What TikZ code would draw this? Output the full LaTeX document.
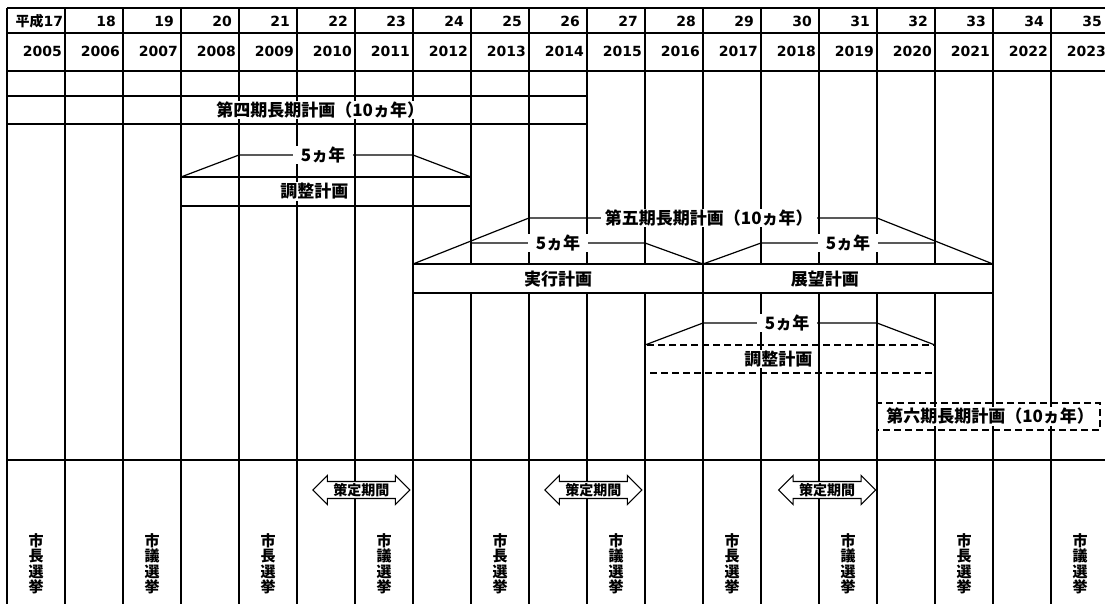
\documentclass[tikz,border=0pt]{standalone}
\usepackage{fontspec}
\setmainfont{Noto Sans CJK JP}
\newfontfamily\numfont{DejaVu Sans}
\usetikzlibrary{positioning,shapes.arrows}
\tikzset{
	gridline/.style={line width=1.2pt},
	hrule/.style={line width=1.8pt},
	planbox/.style={draw,line width=1.4pt},
	bracket/.style={line width=1.2pt},
	tag/.style={fill=white,inner ysep=1pt,inner xsep=2pt,font=\bfseries\fontsize{17}{17}\selectfont},
	gap/.style={tag,inner xsep=8pt},
	kikan/.style={double arrow,draw,fill=white,line width=1.1pt,
		double arrow head extend=6pt,minimum height=97pt,inner sep=1.2pt,
		font=\bfseries\fontsize{14}{14}\selectfont},
	senkyo/.style={align=center,inner sep=0pt,font=\bfseries\fontsize{15}{15.5}\selectfont},
	nendo/.style={anchor=east,inner sep=0pt,font=\numfont\bfseries\fontsize{14}{14}\selectfont}
}

\begin{document}
\begin{tikzpicture}[x=58pt,y=-1pt]
	\useasboundingbox (-0.1207,0) rectangle (18.931,613);
	% grid
	\foreach \i in {0,...,18}
		\draw[gridline] (\i,8) -- (\i,604);
	\foreach \y in {8,33,71,460}
		\draw[hrule] (0,\y) -- (18.931,\y);
	% header
	\node[nendo] (h0) at (0.97,21) {{\normalfont\bfseries 平成}17};
	\foreach \i in {1,...,18}{
		\pgfmathtruncatemacro\n{17+\i}
		\node[nendo] (h\i) at (\i+0.88,21) {\n};
	}
	\foreach \i in {0,...,18}{
		\pgfmathtruncatemacro\n{2005+\i}
		\node[nendo] (y\i) at (\i+0.95,51) {\n};
	}
	% dai 4
	\draw[planbox] (0,96) rectangle (10,124);
	\node[tag] (dai4) at (5.4,110) {第四期長期計画（10ヵ年）};
	\draw[bracket] (3,177) -- (4,155) -- (7,155) -- (8,177);
	\node[gap] (go1) at (5.45,155) {5ヵ年};
	\draw[planbox] (3,177) rectangle (8,206);
	\node[tag] (chosei1) at (5.3,191.5) {調整計画};
	% dai 5
	\draw[bracket] (7,264) -- (9,218) -- (15,218) -- (17,264);
	\draw[bracket] (8,243) -- (11,243) -- (12,264) -- (13,243) -- (16,243);
	\node[gap,inner xsep=4pt] (dai5) at (12.1,218) {第五期長期計画（10ヵ年） };
	\node[gap] (go2) at (9.5,243) {5ヵ年};
	\node[gap] (go3) at (14.5,243) {5ヵ年};
	\draw[planbox,fill=white] (7,264) rectangle (12,293);
	\draw[planbox,fill=white] (12,264) rectangle (17,293);
	\node[tag] (jikko) at (9.5,279) {実行計画};
	\node[tag] (tenbo) at (14.1,279) {展望計画};
	\draw[bracket] (11,345) -- (12,323) -- (15,323) -- (16,345);
	\node[gap] (go4) at (13.45,323) {5ヵ年};
	\draw[planbox,dash pattern=on 7pt off 4pt] (11,345) rectangle (16,373);
	\node[tag] (chosei2) at (13.3,359) {調整計画};
	% dai 6
	\draw[planbox,dash pattern=on 7pt off 4pt] (15,403) rectangle (18.845,430);
	\node[tag] (dai6) at (16.95,416.5) {第六期長期計画（10ヵ年）};
	% sakutei kikan
	\foreach \c/\n in {6.11/a,10.11/b,14.14/c}
		\node[kikan] (kikan\n) at (\c,490) {策定期間};
	% senkyo
	\foreach \i in {0,4,...,16}
		\node[senkyo] (cho\i) at (\i+0.5,564) {市\\長\\選\\挙};
	\foreach \i in {2,6,...,18}
		\node[senkyo] (gi\i) at (\i+0.5,564) {市\\議\\選\\挙};
\end{tikzpicture}
\end{document}
